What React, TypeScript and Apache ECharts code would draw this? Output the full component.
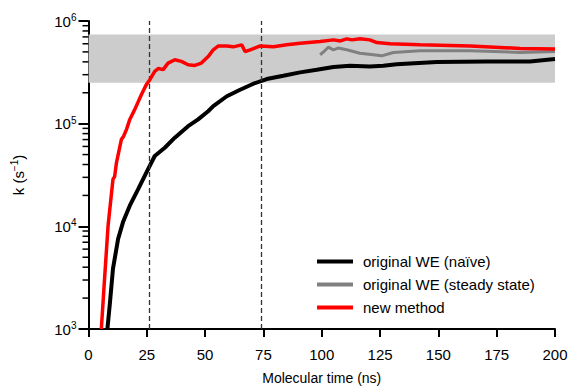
import React, { useEffect, useRef } from "react";
import * as echarts from "echarts";

const FONT = "'Liberation Sans', Arial, Helvetica, sans-serif";

const SERIES_NAMES = ["original WE (naïve)", "original WE (steady state)", "new method"];

const naiveX = [8.1, 9.1, 10.5, 12.7, 14.8, 17.7, 21.3, 24.8, 28.4, 32.7, 37, 42.7, 47, 51.3, 53.5, 59.3, 65, 70.7, 76.4, 83.5, 90.7, 97.9, 105, 112.1, 120.6, 126.4, 132.1, 149.3, 170.7, 189.3, 200];
const naiveY = [1000, 1710, 3870, 7550, 11000, 15900, 23000, 33400, 48400, 58300, 73000, 94600, 110000, 132000, 148000, 185000, 214000, 245000, 272000, 293000, 316000, 335000, 356000, 366000, 361000, 366000, 380000, 398000, 404000, 404000, 426000];

const steadyX = [99.3, 101.4, 102.8, 105, 107, 110.7, 116.4, 122.1, 125.7, 130.7, 142.1, 163.6, 185, 200];
const steadyY = [469000, 515000, 556000, 524000, 545000, 524000, 486000, 469000, 458000, 494000, 512000, 512000, 494000, 504000];

const newX = [5.5, 6.7, 8.4, 10.5, 11.2, 12, 14.1, 15, 16.3, 17.7, 19.8, 22.7, 24.8, 26.3, 28.4, 30, 32, 34.1, 37, 39.8, 42.7, 45.6, 48.4, 51.3, 53.5, 55.7, 59.3, 62.1, 65.7, 67.1, 69.3, 73.6, 79.3, 85, 90.7, 99.3, 105, 108, 110.7, 113, 116.4, 120.6, 123.6, 129.3, 142.1, 163.6, 185, 200];
const newY = [1000, 2660, 10200, 28800, 30500, 41800, 70300, 75000, 88000, 110000, 137000, 192000, 240000, 268000, 323000, 345000, 336000, 389000, 419000, 404000, 375000, 369000, 389000, 450000, 524000, 572000, 570000, 560000, 586000, 504000, 524000, 572000, 560000, 586000, 608000, 630000, 655000, 640000, 670000, 655000, 670000, 655000, 616000, 600000, 586000, 572000, 540000, 535000];

const BAND = [250000, 740000];
const DASHED_X = [26, 74];
const X_TICKS = { min: 0, max: 200, interval: 25 };
const Y_RANGE = { min: 1000, max: 1000000 };
const MINOR_TICKS = [
  2000, 3000, 4000, 5000, 6000, 7000, 8000, 9000,
  20000, 30000, 40000, 50000, 60000, 70000, 80000, 90000,
  200000, 300000, 400000, 500000, 600000, 700000, 800000, 900000,
];

const COLORS = ["#000000", "#808080", "#ff0000"];
const WIDTHS = [4, 3, 3.5];

function zip(xs: number[], ys: number[]) {
  return xs.map((x, i) => [x, ys[i]]);
}

export default function App() {
  const ref = useRef<HTMLDivElement>(null);
  useEffect(() => {
    if (!ref.current) return;
    const chart = echarts.init(ref.current, undefined, { renderer: "svg" });
    const datasets = [zip(naiveX, naiveY), zip(steadyX, steadyY), zip(newX, newY)];
    const lineSeries = SERIES_NAMES.map((name, i) => ({
      name,
      type: "line",
      data: datasets[i],
      showSymbol: false,
      symbol: "none",
      z: 3 + i,
      lineStyle: { color: COLORS[i], width: WIDTHS[i] },
      itemStyle: { color: COLORS[i] },
    }));
    chart.setOption({
      animation: false,
      textStyle: { fontFamily: FONT },
      grid: { left: 88.5, right: 17, top: 21, bottom: 59.5 },
      legend: {
        data: SERIES_NAMES,
        orient: "vertical",
        left: 312,
        top: 248,
        icon: "rect",
        itemWidth: 36,
        itemHeight: 4,
        itemGap: 6,
        textStyle: { fontSize: 15, color: "#000", fontFamily: FONT, lineHeight: 17, padding: [0, 0, 0, 5] },
      },
      xAxis: {
        type: "value",
        min: X_TICKS.min,
        max: X_TICKS.max,
        interval: X_TICKS.interval,
        name: "Molecular time (ns)",
        nameLocation: "middle",
        nameGap: 42,
        nameTextStyle: { fontSize: 14, color: "#000", fontFamily: FONT },
        splitLine: { show: false },
        axisLine: { lineStyle: { color: "#000", width: 2 } },
        axisTick: { length: 8, lineStyle: { color: "#000", width: 2 } },
        axisLabel: { fontSize: 15, color: "#000", margin: 18, fontFamily: FONT },
      },
      yAxis: {
        type: "log",
        logBase: 10,
        min: Y_RANGE.min,
        max: Y_RANGE.max,
        name: "{a|k (s}{s|−1}{a|)}",
        nameLocation: "middle",
        nameGap: 62,
        nameTextStyle: {
          color: "#000",
          rich: {
            a: { fontSize: 15, fontFamily: FONT, color: "#000" },
            s: { fontSize: 10, fontFamily: FONT, color: "#000", padding: [0, 0, 7, 0] },
          },
        },
        splitLine: { show: false },
        axisLine: { show: true, lineStyle: { color: "#000", width: 2 } },
        axisTick: { length: 10, lineStyle: { color: "#000", width: 2 } },
        axisLabel: {
          margin: 12,
          formatter: (v: number) => "{b|10}{s|" + Math.round(Math.log10(v)) + "}",
          rich: {
            b: { fontSize: 15, fontFamily: FONT, color: "#000" },
            s: { fontSize: 10, fontFamily: FONT, color: "#000", padding: [0, 0, 7, 0] },
          },
        },
      },
      series: [
        {
          name: "band",
          type: "line",
          data: [[0, null]],
          z: 1,
          silent: true,
          symbol: "none",
          markArea: {
            silent: true,
            itemStyle: { color: "#cccccc" },
            data: [[{ yAxis: BAND[0] }, { yAxis: BAND[1] }]],
          },
          markLine: {
            silent: true,
            symbol: ["none", "none"],
            label: { show: false },
            lineStyle: { color: "#333", width: 1.3, type: [5, 3] },
            data: DASHED_X.map((x) => ({ xAxis: x })),
          },
        },
        {
          name: "minorTicks",
          type: "custom",
          clip: false,
          silent: true,
          z: 2,
          data: MINOR_TICKS.map((v) => [X_TICKS.min, v]),
          renderItem: (params: any, api: any) => {
            const p = api.coord([api.value(0), api.value(1)]);
            return {
              type: "line",
              shape: { x1: p[0] - 6, y1: p[1], x2: p[0], y2: p[1] },
              style: { stroke: "#000", lineWidth: 1.5 },
            };
          },
        },
        ...lineSeries,
      ],
    });
    return () => chart.dispose();
  }, []);
  return (
    <div
      ref={ref}
      style={{ position: "absolute", left: 0, top: 0, width: 572, height: 390 }}
    />
  );
}
